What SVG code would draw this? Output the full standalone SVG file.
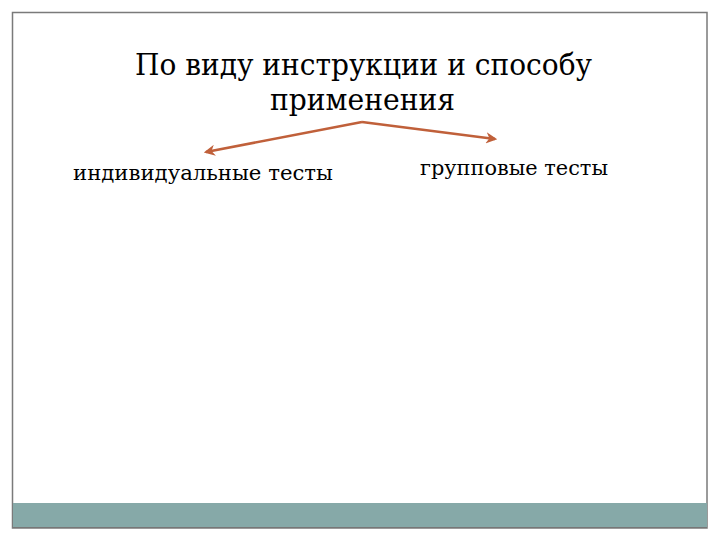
<svg xmlns="http://www.w3.org/2000/svg" width="720" height="540" viewBox="0 0 720 540">
<defs>
<style>
text{font-family:"DejaVu Serif","Liberation Serif",serif;fill:#000}
.t{font-size:29px}
.l{font-size:21px}
.c{stroke:#c0603a;stroke-width:2.5;fill:none}
</style>
<marker id="ah" viewBox="0 0 10 10" refX="8" refY="5" markerWidth="4.5" markerHeight="4.5" orient="auto"><path d="M0,0 L10,5 L0,10 L3,5 Z" fill="#c0603a"/></marker>
</defs>
<rect width="720" height="540" fill="#fff"/>
<rect x="12.5" y="12.5" width="694.5" height="515.5" fill="#fff" stroke="#7a7a7a" stroke-width="1.5"/>
<rect x="13" y="503" width="694" height="25" fill="#86a9a8"/>
<line x1="13" y1="527.5" x2="707" y2="527.5" stroke="#777" stroke-width="1"/>
<g id="title">
<text class="t" x="135" y="75" textLength="457" lengthAdjust="spacingAndGlyphs">По виду инструкции и способу</text>
<text class="t" x="270" y="110" textLength="185" lengthAdjust="spacingAndGlyphs">применения</text>
</g>
<g id="connectors">
<path class="c" d="M362,122 L206,152" marker-end="url(#ah)"/>
<path class="c" d="M362,122 L495,139" marker-end="url(#ah)"/>
</g>
<g id="individual">
<text class="l" x="73" y="180" textLength="260" lengthAdjust="spacingAndGlyphs">индивидуальные тесты</text>
</g>
<g id="group">
<text class="l" x="420" y="175" textLength="188" lengthAdjust="spacingAndGlyphs">групповые тесты</text>
</g>
</svg>
